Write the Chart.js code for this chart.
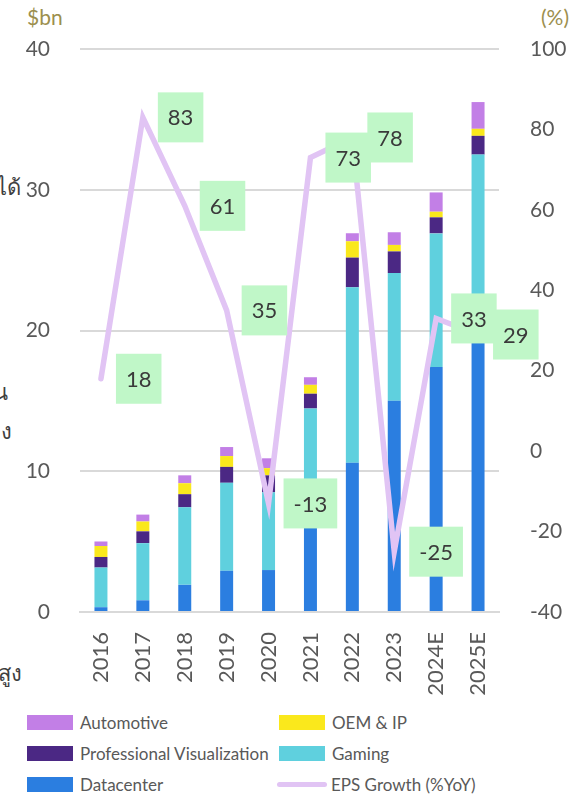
<!DOCTYPE html>
<html>
<head>
<meta charset="utf-8">
<script src="https://cdn.jsdelivr.net/npm/chart.js@4.4.1/dist/chart.umd.min.js"></script>
<style>
  body { margin: 0; background: #fff; width: 574px; height: 796px; overflow: hidden; position: relative; font-family: Lato, "Noto Sans", sans-serif; }
  #wrap { position: absolute; left: 0; top: 0; width: 574px; height: 700px; }
  .unit { position: absolute; top: 4px; color: #9c8f4e; font-size: 21px; }
  .th { position: absolute; font-size: 22px; color: #3f3f3f; white-space: nowrap; text-align: right; }
  #legend { position: absolute; left: 0; top: 712px; width: 574px; }
  .item { position: absolute; display: flex; align-items: center; font-size: 17px; color: #595959; white-space: nowrap; }
  .sw { width: 46px; height: 15px; margin-right: 7px; }
  .ln { width: 50px; height: 5px; border-radius: 3px; margin-right: 4px; }
</style>
</head>
<body>
<div class="unit" style="left:27px">$bn</div>
<div class="unit" style="left:541px">(%)</div>

<!-- เศษข้อความที่ถูกตัดขอบซ้าย -->
<div class="th" style="right:553px;top:170px">ได้</div>
<div class="th" style="right:566px;top:375px">น</div>
<div class="th" style="right:562px;top:414px">ง</div>
<div class="th" style="right:552px;top:656px">สูง</div>

<div id="wrap"><canvas id="c"></canvas></div>
<div id="legend"></div>

<script>
const years = ['2016', '2017', '2018', '2019', '2020', '2021', '2022', '2023', '2024E', '2025E'];
const datacenter = [0.34, 0.83, 1.93, 2.93, 2.98, 6.70, 10.61, 15.01, 17.4, 19.2];
const gaming     = [2.82, 4.06, 5.51, 6.25, 5.52, 7.76, 12.46, 9.07, 9.5, 13.3];
const proVis     = [0.75, 0.84, 0.93, 1.13, 1.21, 1.05, 2.11, 1.54, 1.14, 1.33];
const oemIp      = [0.78, 0.70, 0.78, 0.77, 0.51, 0.63, 1.16, 0.46, 0.40, 0.50];
const automotive = [0.32, 0.49, 0.56, 0.64, 0.70, 0.54, 0.57, 0.90, 1.37, 1.90];
const epsGrowth  = [18, 83, 61, 35, -13, 73, 78, -25, 33, 29];

const C = {
  dc: '#2b7ee0', gaming: '#5fd0de', pv: '#4b2884', oem: '#fae81c', auto: '#c27fe6',
  eps: '#e1c4f4', box: '#c0f7c8', grid: '#d9d9d9', tick: '#595959'
};
const FONT = 'Lato, "Noto Sans", sans-serif';

function bar(label, data, color) {
  return { type: 'bar', label, data, backgroundColor: color, yAxisID: 'y', stack: 's', order: 1,
           barPercentage: 0.31, categoryPercentage: 1 };
}

// กล่องตัวเลข EPS growth
const epsLabels = {
  id: 'epsLabels',
  afterDatasetsDraw(chart) {
    const idx = chart.data.datasets.findIndex(d => d.type === 'line');
    const meta = chart.getDatasetMeta(idx);
    const ctx = chart.ctx;
    ctx.save();
    ctx.font = '22px ' + FONT;
    ctx.textAlign = 'center';
    ctx.textBaseline = 'middle';
    meta.data.forEach((pt, i) => {
      const txt = String(epsGrowth[i]);
      const w = ctx.measureText(txt).width + 20;
      const h = 50;
      const x = pt.x + 15;
      ctx.fillStyle = C.box;
      ctx.fillRect(x, pt.y - h / 2, w, h);
      ctx.fillStyle = '#3a3a3a';
      ctx.fillText(txt, x + w / 2, pt.y + 1);
    });
    ctx.restore();
  }
};

const chart = new Chart(document.getElementById('c'), {
  data: {
    labels: years,
    datasets: [
      bar('Datacenter', datacenter, C.dc),
      bar('Gaming', gaming, C.gaming),
      bar('Professional Visualization', proVis, C.pv),
      bar('OEM & IP', oemIp, C.oem),
      bar('Automotive', automotive, C.auto),
      {
        type: 'line', label: 'EPS Growth (%YoY)', data: epsGrowth, yAxisID: 'y1', order: 0,
        borderColor: C.eps, borderWidth: 5.5, pointRadius: 0, tension: 0,
        borderCapStyle: 'round', fill: false
      }
    ]
  },
  options: {
    responsive: true,
    maintainAspectRatio: false,
    animation: false,
    layout: { padding: { top: 49, left: 0, right: 0, bottom: 0 } },
    plugins: { legend: { display: false }, tooltip: { enabled: false } },
    scales: {
      x: {
        stacked: true,
        grid: { display: false, drawTicks: false },
        border: { display: true, color: C.grid, width: 2 },
        ticks: { color: C.tick, font: { family: FONT, size: 22 }, minRotation: 90, maxRotation: 90, padding: 20 },
        afterFit: (s) => { s.height = 88; }
      },
      y: {
        position: 'left', stacked: true, min: 0, max: 40,
        grid: { color: C.grid, lineWidth: 2, drawTicks: false },
        border: { display: false },
        ticks: { stepSize: 10, color: C.tick, font: { family: FONT, size: 21 }, padding: 30 },
        afterFit: (s) => { s.width = 80; }
      },
      y1: {
        position: 'right', min: -40, max: 100,
        grid: { display: false, drawTicks: false },
        border: { display: false },
        ticks: { stepSize: 20, color: C.tick, font: { family: FONT, size: 21 }, padding: 31 },
        afterFit: (s) => { s.width = 75; }
      }
    }
  },
  plugins: [epsLabels]
});

// legend แบบ 2 คอลัมน์ ดึงจาก dataset ของกราฟ
const legendOrder = ['Automotive', 'OEM & IP', 'Professional Visualization', 'Gaming', 'Datacenter', 'EPS Growth (%YoY)'];
const lg = document.getElementById('legend');
legendOrder.forEach((name, i) => {
  const ds = chart.data.datasets.find(d => d.label === name);
  const el = document.createElement('div');
  el.className = 'item';
  el.style.left = (i % 2 ? 277 : 27) + 'px';
  el.style.top = (Math.floor(i / 2) * 31) + 'px';
  const sw = document.createElement('span');
  if (ds.type === 'line') { sw.className = 'ln'; sw.style.background = ds.borderColor; }
  else { sw.className = 'sw'; sw.style.background = ds.backgroundColor; if (i % 2) sw.style.marginLeft = '2px'; }
  el.appendChild(sw);
  el.appendChild(document.createTextNode(name));
  lg.appendChild(el);
});
</script>
</body>
</html>
